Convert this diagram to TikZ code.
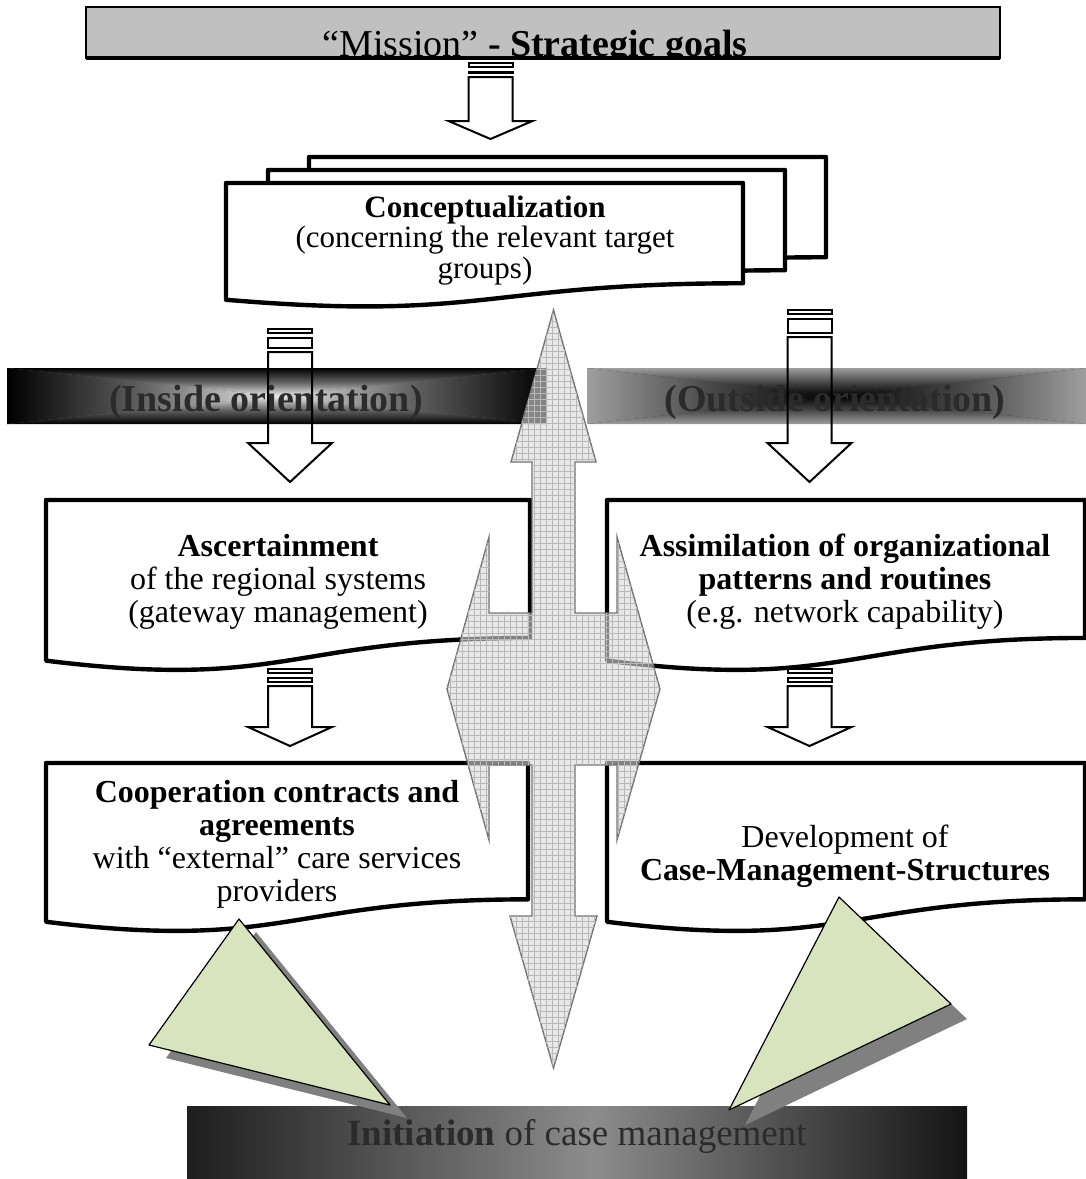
\documentclass[tikz,border=0pt]{standalone}
\usepackage{fontspec}
\setmainfont{Liberation Serif}
\usetikzlibrary{patterns,calc}
\definecolor{ltgreen}{HTML}{D7E4BD}
\definecolor{shadowgray}{HTML}{808080}
\definecolor{missiongray}{HTML}{C0C0C0}
\definecolor{textdark}{HTML}{2B2B2B}
\pgfdeclarehorizontalshading{initshade}{100bp}{color(0bp)=(black); color(18bp)=(black); color(51bp)=(black!45); color(79bp)=(black); color(100bp)=(black)}

% document shape: options, x0, y0, width, height (pixel units)
\newcommand{\docshape}[5][]{%
  \pgfmathsetmacro\dsXr{#2+#4}\pgfmathsetmacro\dsXm{#2+0.5*#4}%
  \pgfmathsetmacro\dsYr{#3+0.802*#5}\pgfmathsetmacro\dsYc{#3+1.108*#5}\pgfmathsetmacro\dsYl{#3+0.934*#5}%
  \draw[docline,#1] (#2,#3) -- (\dsXr,#3) -- (\dsXr,\dsYr) .. controls (\dsXm,\dsYr) and (\dsXm,\dsYc) .. (#2,\dsYl) -- cycle;}
% striped block arrow: centre x, bar top, second bar bottom, head top, tip
\newcommand{\blockdown}[5]{%
  \pgfmathsetmacro\arL{#1-22}\pgfmathsetmacro\arR{#1+22}%
  \pgfmathsetmacro\hdL{#1-42}\pgfmathsetmacro\hdR{#1+42}%
  \pgfmathsetmacro\barA{#2+4}\pgfmathsetmacro\barB{#2+9}\pgfmathsetmacro\shT{#3+4}%
  \draw[arrowline] (\arL,#2) rectangle (\arR,\barA);
  \draw[arrowline] (\arL,\barB) rectangle (\arR,#3);
  \draw[arrowline] (\arL,\shT) -- (\arL,#4) -- (\hdL,#4) -- (#1,#5) -- (\hdR,#4) -- (\arR,#4) -- (\arR,\shT) -- cycle;}
% rectangle gradient from the centre: x0,y0,x1,y1,outer,middle,inner
\newcommand{\rectgrad}[7]{%
  \pgfmathsetmacro\rgX{(#1+#3)/2}\pgfmathsetmacro\rgY{(#2+#4)/2}%
  \fill[#6] (#1,#2) rectangle (#3,#4);
  \begin{scope}\clip (#1,#2) -- (#3,#2) -- (\rgX,\rgY) -- cycle;
    \shade[top color=#5, bottom color=#7, middle color=#6] (#1,#2) rectangle (#3,\rgY);\end{scope}
  \begin{scope}\clip (#1,#4) -- (#3,#4) -- (\rgX,\rgY) -- cycle;
    \shade[top color=#7, bottom color=#5, middle color=#6] (#1,\rgY) rectangle (#3,#4);\end{scope}
  \begin{scope}\clip (#1,#2) -- (#1,#4) -- (\rgX,\rgY) -- cycle;
    \shade[left color=#5, right color=#7, middle color=#6] (#1,#2) rectangle (\rgX,#4);\end{scope}
  \begin{scope}\clip (#3,#2) -- (#3,#4) -- (\rgX,\rgY) -- cycle;
    \shade[left color=#7, right color=#5, middle color=#6] (\rgX,#2) rectangle (#3,#4);\end{scope}}

\begin{document}
\begin{tikzpicture}[x=0.5pt, y=-0.5pt,
  docline/.style={draw=black, line width=2.2pt, fill=white, line join=round},
  arrowline/.style={draw=black, line width=1pt},
  bigarrow/.style={draw=black!55, line width=0.7pt, fill=black!15, fill opacity=0.6,
    postaction={pattern=grid, pattern color=black!28}},
  boxtext/.style={align=center, anchor=base, inner sep=0pt, font=\fontsize{16}{16.5}\selectfont},
  bartext/.style={anchor=base, inner sep=0pt, text=textdark, font=\fontsize{19}{19}\selectfont\bfseries},
  tri/.style={fill=ltgreen, draw=black, line width=0.6pt, line join=round}]
\useasboundingbox (0,0) rectangle (1086,1179);

% mission
\fill[missiongray] (86,7) rectangle (1000,58);
\draw[line width=0.7pt] (86,7) rectangle (1000,58);
\draw[line width=1.6pt] (86,58) -- (1000,58);
\begin{scope}
  \clip (86,7) rectangle (1000,57);
  \node[anchor=base, inner sep=0pt, font=\fontsize{19}{19}\selectfont] (mission) at (535,56) {“Mission” \textbf{- Strategic goals}};
\end{scope}
\blockdown{490.5}{63}{73}{121}{139}

% conceptualization stack
\foreach \dx/\dy in {309/157, 268/170, 226/183}
  \docshape{\dx}{\dy}{517}{125};
\node[boxtext, font=\fontsize{15.5}{15.25}\selectfont] (concept) at (485,278)
  {\textbf{Conceptualization}\\(concerning the relevant target\\groups)};

% orientation bars
\rectgrad{7}{368}{547}{424}{black}{black!62}{black!8}
\rectgrad{587}{368}{1086}{424}{black!38}{black!72}{black}
\node[bartext] (inside) at (266,411) {(Inside orientation)};
\node[bartext] (outside) at (835,411) {(Outside orientation)};
\blockdown{290}{329}{348}{443}{482}
\blockdown{809.5}{310}{333}{443}{482}

% second row
\docshape{46}{500}{484}{172}
\docshape{607}{500}{478}{172}
\node[boxtext] (ascert) at (278,622) {\textbf{Ascertainment}\\of the regional systems\\(gateway management)};
\node[boxtext] (assim) at (845,622) {\textbf{Assimilation of organizational}\\\textbf{patterns and routines}\\(e.g. network capability)};
\blockdown{290}{669}{682}{727}{746}
\blockdown{809.5}{669}{682}{727}{746}

% third row
\docshape{46}{763}{482}{170}
\docshape{607}{763}{478}{170}
\node[boxtext] (coop) at (277,901) {\textbf{Cooperation contracts and}\\\textbf{agreements}\\with “external” care services\\providers};
\node[boxtext] (devel) at (845,880) {Development of\\\textbf{Case-Management-Structures}};

% central arrow
\draw[bigarrow] (553.5,310) -- (596,462) -- (575,462) -- (575,613) -- (617,613) -- (617,537) -- (660,689)
  -- (617,840) -- (617,765) -- (575,765) -- (575,916) -- (597,916) -- (553.5,1068) -- (510,916)
  -- (532,916) -- (532,765) -- (489,765) -- (489,840) -- (447,689) -- (489,537) -- (489,613)
  -- (532,613) -- (532,462) -- (511,462) -- cycle;

% initiation
\shade[shading=initshade] (187,1106) rectangle (967,1179);
\node[anchor=base, inner sep=0pt, text=textdark, font=\fontsize{18.5}{18.5}\selectfont] (init) at (577,1145) {\textbf{Initiation} of case management};

% triangles
\fill[shadowgray, shift={(17,13)}] (239,919) -- (149,1045) -- (390,1105) -- cycle;
\draw[tri] (239,919) -- (149,1045) -- (390,1105) -- cycle;
\fill[shadowgray, shift={(16,15)}] (839,897) -- (951,1004) -- (729,1110) -- cycle;
\draw[tri] (839,897) -- (951,1004) -- (729,1110) -- cycle;
\end{tikzpicture}
\end{document}
